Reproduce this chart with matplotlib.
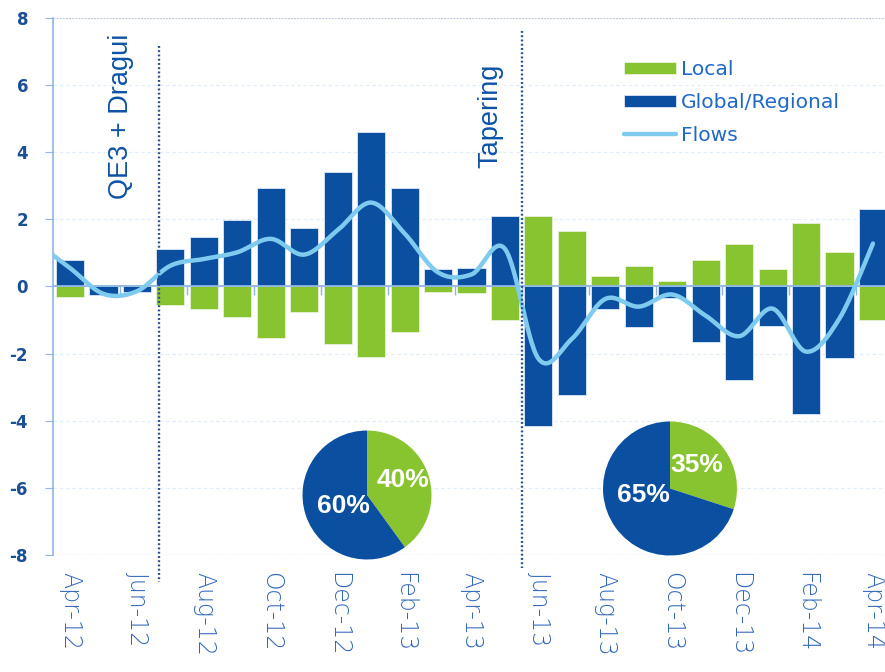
import numpy as np
import matplotlib
matplotlib.use("Agg")
import matplotlib.pyplot as plt
from matplotlib.patches import Patch
from matplotlib.lines import Line2D

# ---------------- data ----------------
months = ["Apr-12", "May-12", "Jun-12", "Jul-12", "Aug-12", "Sep-12", "Oct-12", "Nov-12",
          "Dec-12", "Jan-13", "Feb-13", "Mar-13", "Apr-13", "May-13", "Jun-13", "Jul-13",
          "Aug-13", "Sep-13", "Oct-13", "Nov-13", "Dec-13", "Jan-14", "Feb-14", "Mar-14", "Apr-14"]
tick_labels = ["Apr-12", "Jun-12", "Aug-12", "Oct-12", "Dec-12", "Feb-13", "Apr-13",
               "Jun-13", "Aug-13", "Oct-13", "Dec-13", "Feb-14", "Apr-14"]
global_regional = [0.78, -0.25, -0.15, 1.13, 1.46, 1.97, 2.92, 1.73, 3.41, 4.59, 2.94, 0.51, 0.55,
                   2.10, -4.15, -3.23, -0.68, -1.20, -0.35, -1.64, -2.78, -1.17, -3.81, -2.12, 2.30]
local = [-0.32, 0.05, 0.05, -0.56, -0.68, -0.90, -1.52, -0.75, -1.70, -2.09, -1.37, -0.15, -0.20,
         -1.00, 2.10, 1.65, 0.31, 0.62, 0.16, 0.78, 1.26, 0.51, 1.88, 1.04, -1.00]
# flows line (first value = Mar-12, clipped at the left edge)
flows = [1.30, 0.55, -0.22, -0.14, 0.62, 0.82, 1.02, 1.42, 0.95, 1.68, 2.50, 1.58, 0.42, 0.36,
         1.12, -2.15, -1.56, -0.37, -0.60, -0.24, -0.87, -1.48, -0.66, -1.94, -0.95, 1.28]
pie1_sizes = [40, 60]
pie1_labels = ["40%", "60%"]
pie2_sizes = [30, 70]
pie2_labels = ["35%", "65%"]
events = ["QE3 + Dragui", "Tapering"]

GREEN = "#88c42f"
BLUE = "#0b4fa1"
LIGHT = "#7ecbef"
AXC = "#8fb6e3"
TXT = "#1b4f96"

W, H = 885, 672
fig = plt.figure(figsize=(W / 100, H / 100), dpi=100)
ax = fig.add_axes([53 / W, 1 - 555 / H, (W - 53) / W, (555 - 18) / H])

x = np.arange(len(months))
bw = 0.84
ax.bar(x, global_regional, width=bw, color=BLUE, edgecolor="#dce8f6", linewidth=0.6, zorder=3)
ax.bar(x, local, width=bw, color=GREEN, edgecolor="#e8f2dc", linewidth=0.6, zorder=3)

# smooth flows line (Catmull-Rom)
fx = np.arange(-1, len(months)).astype(float)
fy = np.array(flows, dtype=float)
pts = np.column_stack([fx, fy])
curve = []
n = len(pts)
for i in range(n - 1):
    p0 = pts[max(i - 1, 0)]
    p1 = pts[i]
    p2 = pts[i + 1]
    p3 = pts[min(i + 2, n - 1)]
    for t in np.linspace(0, 1, 30, endpoint=(i == n - 2)):
        t2, t3 = t * t, t * t * t
        c = 0.5 * ((2 * p1) + (-p0 + p2) * t + (2 * p0 - 5 * p1 + 4 * p2 - p3) * t2
                   + (-p0 + 3 * p1 - 3 * p2 + p3) * t3)
        curve.append(c)
curve = np.array(curve)
ax.plot(curve[:, 0], curve[:, 1], color=LIGHT, lw=3.2, solid_capstyle="round", zorder=5)

ax.set_xlim(-0.51, 24.36)
ax.set_ylim(-8, 8)

# grid
for yv in [-6, -4, -2, 2, 4, 6]:
    ax.axhline(yv, color="#e2eef9", lw=0.9, ls=(0, (3, 2)), zorder=1)
for yv in [8, -8]:
    ax.axhline(yv, color="#bcc8d8", lw=0.9, ls=(0, (1.5, 1)), zorder=1)
ax.axhline(0, color=AXC, lw=1.3, zorder=4)
tick_x = np.arange(1.5, 24.4, 2)
ax.vlines(tick_x, -0.25, 0, color=AXC, lw=1.0, zorder=4)

for s in ["top", "right", "bottom"]:
    ax.spines[s].set_visible(False)
ax.spines["left"].set_color(AXC)
ax.spines["left"].set_linewidth(1.2)

ax.set_yticks(np.arange(-8, 9, 2))
ax.set_yticklabels([str(v) for v in range(-8, 9, 2)], fontweight="bold", fontsize=12,
                   color=TXT, family="DejaVu Sans")
ax.tick_params(axis="y", length=6, color=AXC, pad=12)
ax.set_xticks(np.arange(0, 25, 2))
ax.set_xticklabels(tick_labels, rotation=-90, fontsize=17, color="#3468b8",
                   family="DejaVu Sans", fontweight="light")
ax.tick_params(axis="x", length=0, pad=12)

# event lines
ax.plot([2.66, 2.66], [7.16, -8.8], color="#26508c", lw=1.7, ls=(0, (0.8, 1.0)),
        clip_on=False, zorder=6)
ax.plot([13.51, 13.51], [7.61, -8.4], color="#26508c", lw=1.7, ls=(0, (0.8, 1.0)),
        clip_on=False, zorder=6)
fig.text(121 / W, 1 - 116 / H, events[0], rotation=90, ha="center", va="center",
         fontsize=19.5, color="#0d52a6", family="Liberation Sans")
fig.text(490 / W, 1 - 116 / H, events[1], rotation=90, ha="center", va="center",
         fontsize=19.5, color="#0d52a6", family="Liberation Sans")

# legend
handles = [Patch(facecolor=GREEN, edgecolor="#e8f2dc", lw=0.6),
           Patch(facecolor=BLUE, edgecolor="#dce8f6", lw=0.6),
           Line2D([0], [0], color=LIGHT, lw=3.2, solid_capstyle="round")]
leg = fig.legend(handles, ["Local", "Global/Regional", "Flows"], loc="upper left",
                 bbox_to_anchor=(624 / W, 1 - 60 / H), frameon=False, fontsize=14.6,
                 handlelength=2.55, handleheight=0.55, handletextpad=0.25, labelspacing=0.68,
                 borderpad=0, borderaxespad=0)
for t in leg.get_texts():
    t.set_color("#1f6ac6")

# pie 1 (white box behind)
pax1 = fig.add_axes([270 / W, 1 - 565 / H, 191 / W, 140 / H])
pax1.pie(pie1_sizes, colors=[GREEN, BLUE], startangle=90, counterclock=False,
         radius=64.5, center=(0, 0))
pax1.set_aspect("auto")
pax1.set_xlim(-97, 94)
pax1.set_ylim(-70, 70)
pax1.set_facecolor("white")
for s in pax1.spines.values():
    s.set_visible(False)
pax1.set_xticks([])
pax1.set_yticks([])

# pie 2
r2 = 67
pax2 = fig.add_axes([(670 - r2) / W, 1 - (488.5 + r2) / H, 2 * r2 / W, 2 * r2 / H])
pax2.pie(pie2_sizes, colors=[GREEN, BLUE], startangle=90, counterclock=False, radius=1)
pax2.set_xlim(-1, 1)
pax2.set_ylim(-1, 1)
pax2.axis("off")

lab_kw = dict(ha="center", va="center", fontsize=19, fontweight="bold", color="white",
              family="Liberation Sans")
fig.text(403 / W, 1 - 480 / H, pie1_labels[0], **lab_kw)
fig.text(343 / W, 1 - 506 / H, pie1_labels[1], **lab_kw)
fig.text(697 / W, 1 - 465 / H, pie2_labels[0], **lab_kw)
fig.text(643 / W, 1 - 495 / H, pie2_labels[1], **lab_kw)

fig.savefig("out.png", dpi=100)
